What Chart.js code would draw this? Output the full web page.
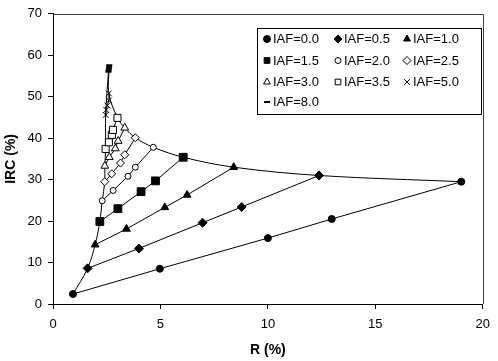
<!DOCTYPE html>
<html>
<head>
<meta charset="utf-8">
<script src="https://cdn.jsdelivr.net/npm/chart.js@4.4.0/dist/chart.umd.min.js"></script>
<style>
  body { margin: 0; background: #fff; }
  #wrap { width: 498px; height: 361px; }
</style>
</head>
<body>
<div id="wrap"><canvas id="myChart" width="498" height="361"></canvas></div>
<script>
// valeurs : R (%) et IRC (%) pour chaque IAF
const iafLabels = ["IAF=0.0", "IAF=0.5", "IAF=1.0", "IAF=1.5", "IAF=2.0", "IAF=2.5", "IAF=3.0", "IAF=3.5", "IAF=5.0", "IAF=8.0"];

const r00 = [0.93, 4.97, 10.0, 12.97, 19.0];
const irc00 = [2.4, 8.5, 15.9, 20.5, 29.5];
const r05 = [1.61, 4.0, 6.96, 8.78, 12.38];
const irc05 = [8.6, 13.4, 19.6, 23.4, 31.0];
const r10 = [1.96, 3.42, 5.2, 6.24, 8.41];
const irc10 = [14.3, 18.1, 23.3, 26.3, 33.0];
const r15 = [2.18, 3.02, 4.1, 4.77, 6.06];
const irc15 = [19.9, 23.0, 27.1, 29.7, 35.4];
const r20 = [2.29, 2.8, 3.49, 3.83, 4.67];
const irc20 = [24.9, 27.4, 30.8, 33.0, 37.8];
const r25 = [2.41, 2.73, 3.14, 3.34, 3.83];
const irc25 = [29.5, 31.4, 34.0, 36.0, 40.1];
const r30 = [2.41, 2.62, 2.9, 3.03, 3.34];
const irc30 = [33.3, 35.4, 37.5, 39.3, 42.5];
const r35 = [2.45, 2.6, 2.74, 2.79, 3.0];
const irc35 = [37.4, 39.0, 40.8, 42.0, 44.9];
const r50 = [2.45, 2.48, 2.53, 2.6, 2.6];
const irc50 = [45.6, 46.8, 47.9, 49.1, 50.8];
const r80 = [2.58, 2.59, 2.6, 2.61, 2.62];
const irc80 = [56.0, 56.4, 56.8, 57.2, 57.6];

const xTicks = [0, 5, 10, 15, 20];
const yTicks = [0, 10, 20, 30, 40, 50, 60, 70];

const allR = [r00, r05, r10, r15, r20, r25, r30, r35, r50, r80];
const allIRC = [irc00, irc05, irc10, irc15, irc20, irc25, irc30, irc35, irc50, irc80];

// style des marqueurs (plein / vide)
const marqueurs = [
    { style: "circle", radius: 3.5, fill: "#000" },
    { style: "rectRot", radius: 4.5, fill: "#000" },
    { style: "triangle", radius: 4.5, fill: "#000" },
    { style: "rect", radius: 5.5, fill: "#000" },
    { style: "circle", radius: 3, fill: "#fff" },
    { style: "rectRot", radius: 4, fill: "#fff" },
    { style: "triangle", radius: 4.5, fill: "#fff" },
    { style: "rect", radius: 5, fill: "#fff" },
    { style: "crossRot", radius: 4, fill: "#fff" },
    { style: "line", radius: 3, fill: "#000" }
];

const toPoints = (rs, ircs) => rs.map((r, i) => ({ x: r, y: ircs[i] }));

const datasets = iafLabels.map((label, i) => ({
    label: label,
    data: toPoints(allR[i], allIRC[i]),
    showLine: true,
    borderColor: "#000",
    borderWidth: 1,
    pointStyle: marqueurs[i].style,
    pointRadius: marqueurs[i].radius,
    pointBackgroundColor: marqueurs[i].fill,
    pointBorderColor: "#000",
    pointBorderWidth: i === 9 ? 2 : 1,
    order: 1
}));

// courbes qui relient le premier et le dernier point de chaque IAF
datasets.push({
    label: "inner",
    data: allR.map((rs, i) => ({ x: rs[0], y: allIRC[i][0] })),
    showLine: true,
    borderColor: "#000",
    borderWidth: 1,
    pointRadius: 0,
    tension: 0.35,
    order: 2
});
datasets.push({
    label: "outer",
    data: allR.map((rs, i) => ({ x: rs[rs.length - 1], y: allIRC[i][allIRC[i].length - 1] })),
    showLine: true,
    borderColor: "#000",
    borderWidth: 1,
    pointRadius: 0,
    tension: 0.35,
    order: 2
});

const cadre = {
    id: "cadre",
    afterDraw(chart) {
        const { ctx, chartArea: a } = chart;
        ctx.save();
        ctx.strokeStyle = "#404040";
        ctx.lineWidth = 1;
        ctx.beginPath();
        ctx.moveTo(a.left, Math.round(a.top) + 0.5);
        ctx.lineTo(Math.round(a.right) + 0.5, Math.round(a.top) + 0.5);
        ctx.lineTo(Math.round(a.right) + 0.5, a.bottom);
        ctx.stroke();
        ctx.restore();
    }
};

// légende en 3 colonnes dans un cadre, comme sur Excel
const legende = {
    id: "legende",
    afterDraw(chart) {
        const ctx = chart.ctx;
        ctx.save();
        ctx.fillStyle = "#fff";
        ctx.fillRect(257.5, 28.5, 224, 86);
        ctx.strokeStyle = "#000";
        ctx.lineWidth = 1;
        ctx.strokeRect(257.5, 28.5, 224, 86);
        const colX = [267, 338, 407];
        const rowY = [39, 60.5, 82, 102];
        ctx.font = "13px 'Liberation Sans', Arial, sans-serif";
        ctx.textBaseline = "middle";
        iafLabels.forEach((label, i) => {
            const col = i % 3;
            const row = Math.floor(i / 3);
            const m = marqueurs[i];
            ctx.fillStyle = m.fill;
            ctx.strokeStyle = "#000";
            ctx.lineWidth = i === 9 ? 2 : 1;
            Chart.helpers.drawPoint(ctx, {
                pointStyle: m.style,
                radius: Math.min(m.radius, 4),
                rotation: 0,
                borderWidth: ctx.lineWidth
            }, colX[col], rowY[row]);
            ctx.fillStyle = "#000";
            ctx.fillText(label, colX[col] + 6, rowY[row] + 0.5);
        });
        ctx.restore();
    }
};

const ctx = document.getElementById("myChart").getContext("2d");
new Chart(ctx, {
    type: "scatter",
    data: { datasets: datasets },
    options: {
        responsive: false,
        animation: false,
        layout: { padding: { top: 8, right: 10, left: 0, bottom: 0 } },
        plugins: {
            legend: { display: false },
            tooltip: { enabled: false }
        },
        scales: {
            x: {
                type: "linear",
                min: 0,
                max: 20,
                afterFit: (s) => { s.height = 57; },
                afterBuildTicks: (s) => { s.ticks = xTicks.map(v => ({ value: v })); },
                ticks: {
                    color: "#000",
                    padding: 8,
                    font: { family: "'Liberation Sans', Arial", size: 13 }
                },
                grid: { display: true, drawOnChartArea: false, drawTicks: true, tickLength: 5, color: "#000" },
                border: { display: true, color: "#000" },
                title: {
                    display: true,
                    text: "R (%)",
                    color: "#000",
                    padding: { top: 0, bottom: 2 },
                    font: { family: "'Liberation Sans', Arial", size: 14, weight: "bold" }
                }
            },
            y: {
                type: "linear",
                min: 0,
                max: 70,
                afterFit: (s) => { s.width = 53; },
                afterBuildTicks: (s) => { s.ticks = yTicks.map(v => ({ value: v })); },
                ticks: {
                    color: "#000",
                    padding: 6,
                    font: { family: "'Liberation Sans', Arial", size: 13 }
                },
                grid: { display: true, drawOnChartArea: false, drawTicks: true, tickLength: 5, color: "#000" },
                border: { display: true, color: "#000" },
                title: {
                    display: true,
                    text: "IRC (%)",
                    color: "#000",
                    padding: { top: 3, bottom: 0 },
                    font: { family: "'Liberation Sans', Arial", size: 14, weight: "bold" }
                }
            }
        }
    },
    plugins: [cadre, legende]
});
</script>
</body>
</html>
